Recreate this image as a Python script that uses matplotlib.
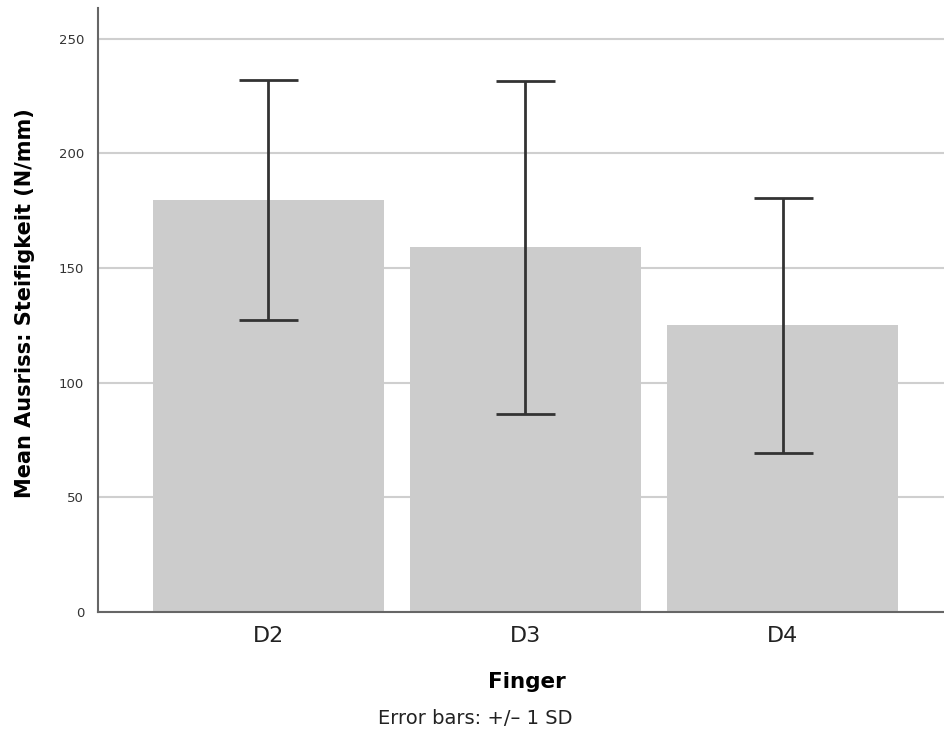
import numpy as np
import matplotlib
matplotlib.use("Agg")
import matplotlib.pyplot as plt

plt.rcParams['font.family'] = ['DejaVu Sans']

# Mittelwerte und Standardabweichungen der Steifigkeit je Finger
finger = ['D2', 'D3', 'D4']
mittel = [179.6, 159.0, 125.0]
sd = [52.1, 72.6, 55.6]
yticks = [0, 50, 100, 150, 200, 250]

fig = plt.figure(figsize=(9.45, 7.37), dpi=100)
ax = fig.add_axes([98/945, 125/737, 847/945, 604/737])

x = np.arange(len(finger))
ax.bar(x, mittel, width=0.9, color='#cccccc', zorder=2)
ax.errorbar(x, mittel, yerr=sd, fmt='none', ecolor='#333333', elinewidth=2,
            capsize=29.5*0.72, capthick=2, zorder=3)

ax.set_xlim(-0.663, 2.632)
ax.set_ylim(0, 263.3)
ax.set_yticks(yticks)
ax.set_xticks(x)
ax.set_xticklabels(finger, fontsize=16, color='#222222')
ax.tick_params(axis='y', length=0, pad=10, labelsize=9.5, labelcolor='#333333')
ax.tick_params(axis='x', length=0, pad=10)
ax.grid(axis='y', color='#cfcfcf', linewidth=1.5, zorder=1)
ax.set_axisbelow(True)

for s in ['top', 'right']:
    ax.spines[s].set_visible(False)
for s in ['left', 'bottom']:
    ax.spines[s].set_color('#666666')
    ax.spines[s].set_linewidth(1.5)

ax.set_xlabel('Finger', fontsize=15.5, fontweight='bold', labelpad=20)
ax.xaxis.set_label_coords(527/945 * 945/847 - 98/847, -(682 - 612)/604)
ax.xaxis.label.set_va('center')
ax.set_ylabel('Mean Ausriss: Steifigkeit (N/mm)', fontsize=15, fontweight='bold')
ax.yaxis.set_label_coords(-63/847, (612 - 303)/604)
fig.text(475/945, 1 - 718/737, 'Error bars: +/\u2013 1 SD', ha='center', va='center',
         fontsize=14, color='#222222')

plt.savefig('out.png', dpi=100)
